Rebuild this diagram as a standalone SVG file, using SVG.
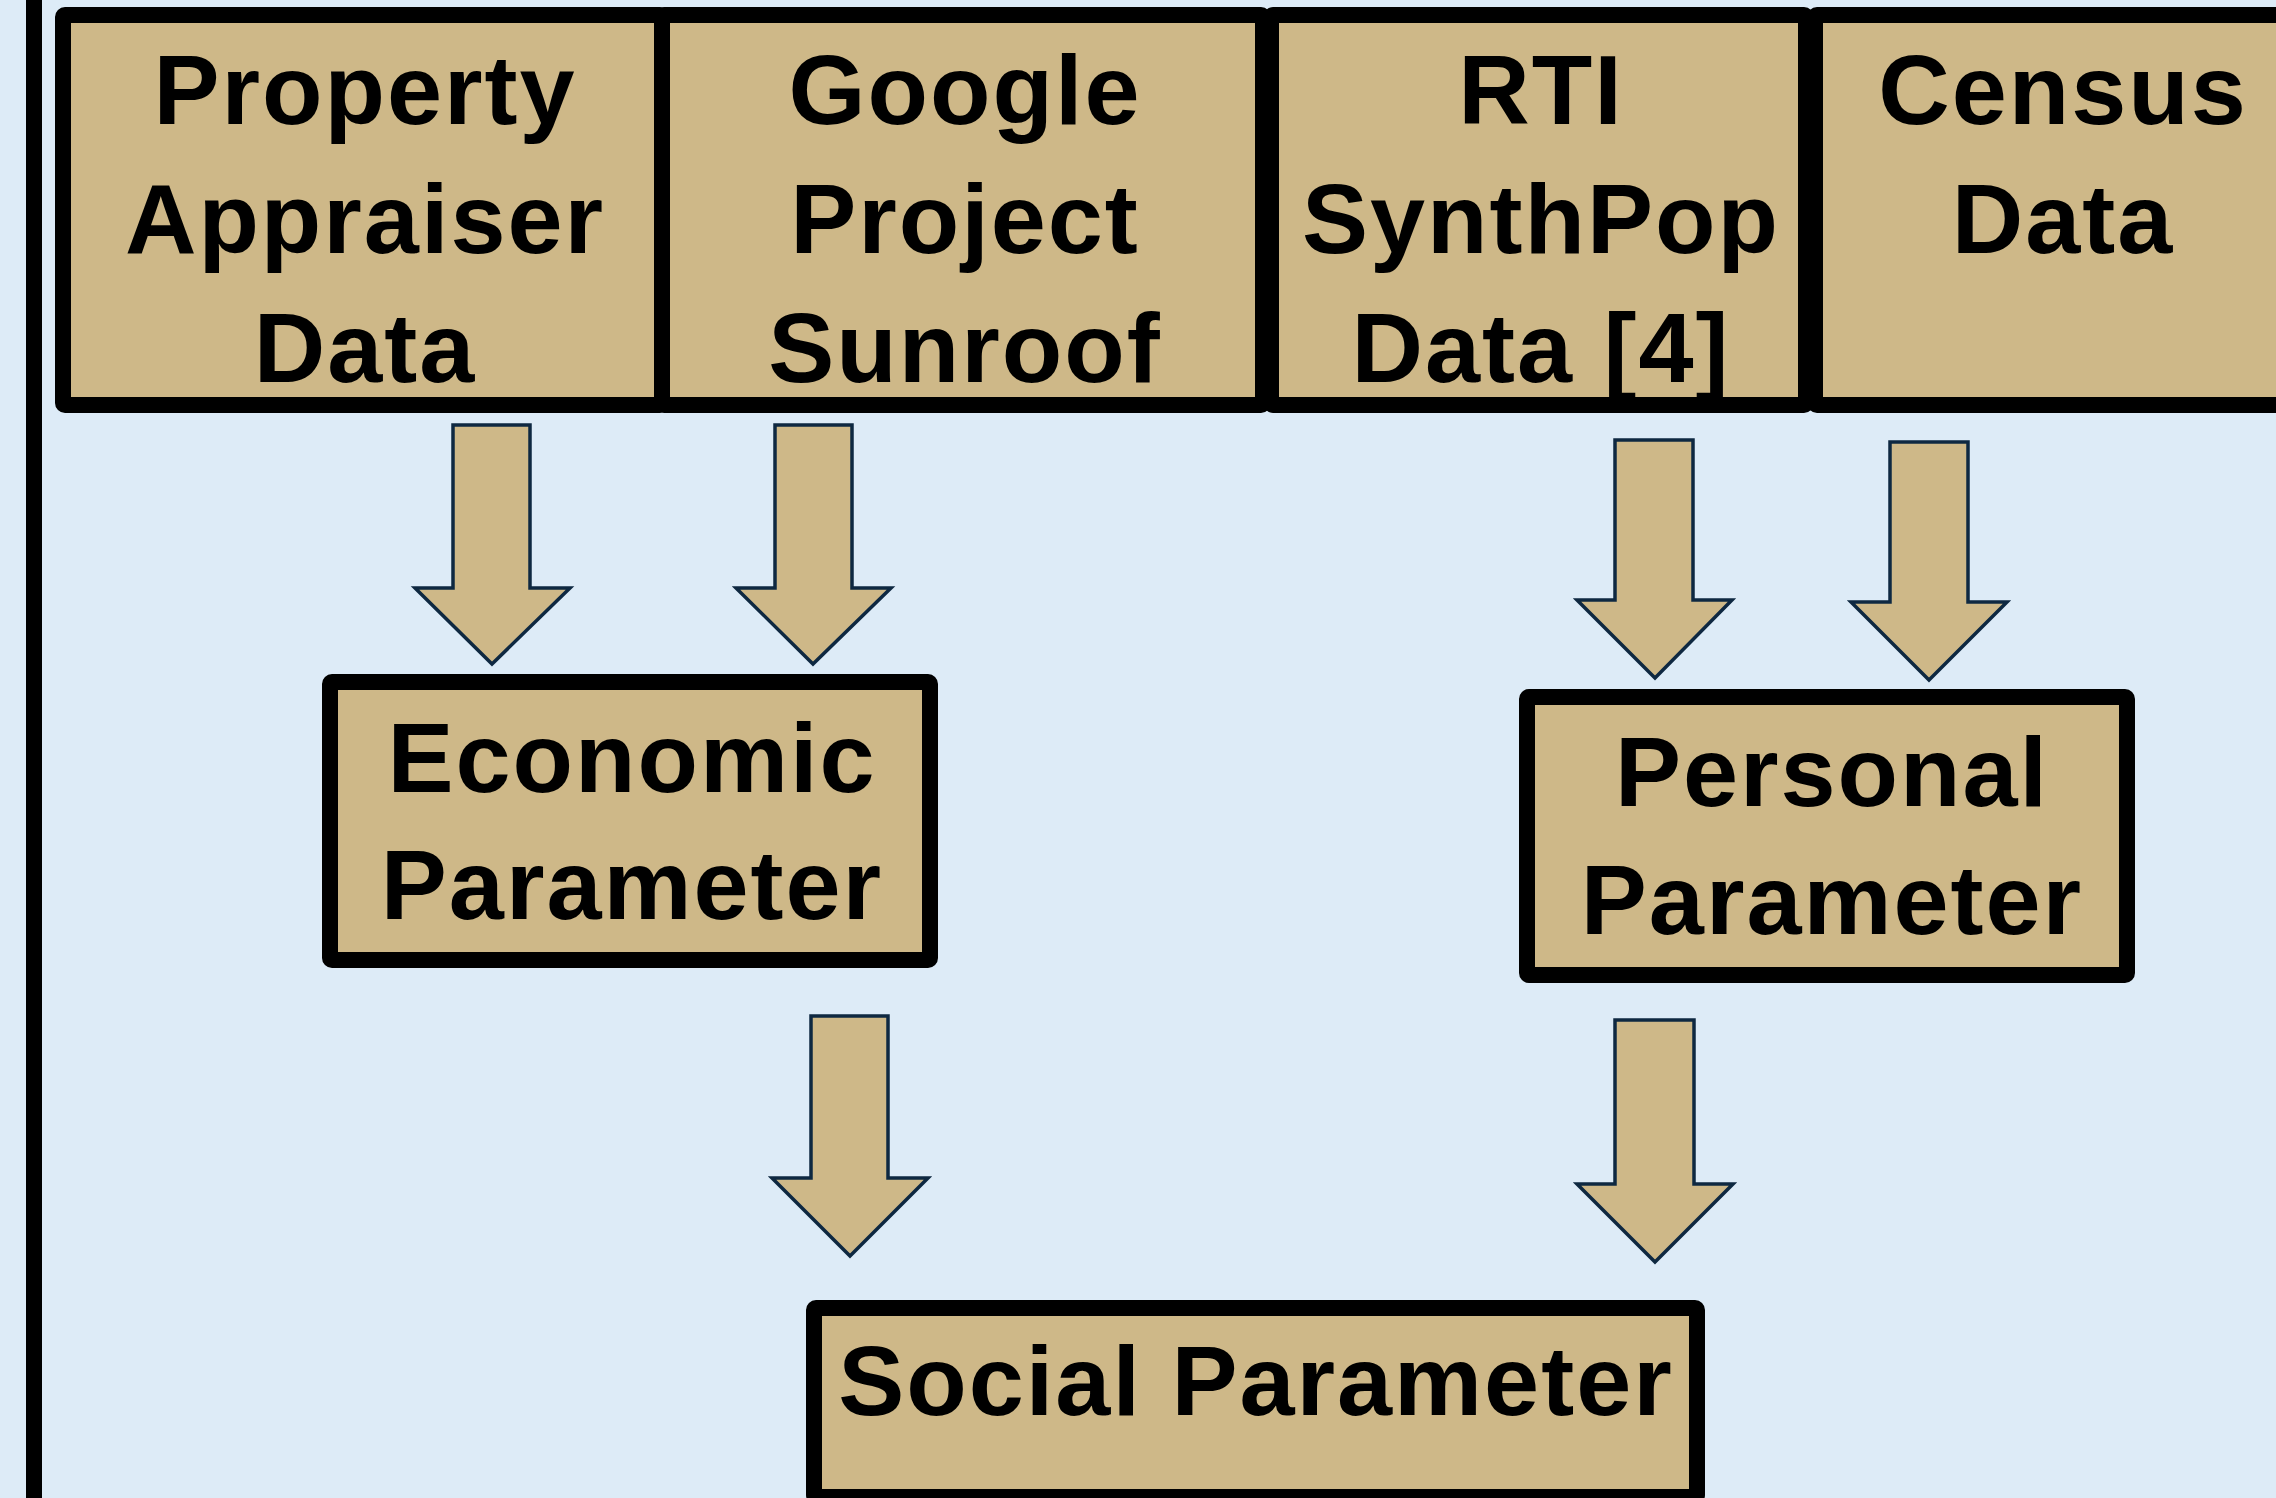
<svg xmlns="http://www.w3.org/2000/svg" width="2276" height="1498" viewBox="0 0 2276 1498">
<style>
.box{fill:#CEB888;stroke:#000;stroke-width:16;stroke-linejoin:round}
.lbl{font-family:"Liberation Sans",Arial,sans-serif;font-weight:bold;font-size:99px;letter-spacing:2px;fill:#000;text-anchor:middle}
.arr{fill:#CEB888;stroke:#0E2841;stroke-width:3.5;stroke-linejoin:miter}
</style>
<rect x="0" y="0" width="2276" height="1498" fill="#DDEBF7"/>
<rect x="26" y="-5" width="16" height="1510" fill="#000"/>
<g id="node-property">
<rect class="box" x="63" y="15" width="599" height="390" rx="2"/>
<text class="lbl" x="365" y="124">Property</text>
<text class="lbl" x="365" y="253">Appraiser</text>
<text class="lbl" x="365" y="382">Data</text>
</g>
<g id="node-google">
<rect class="box" x="662" y="15" width="601" height="390" rx="2"/>
<text class="lbl" x="965" y="124">Google</text>
<text class="lbl" x="965" y="253">Project</text>
<text class="lbl" x="965" y="382">Sunroof</text>
</g>
<g id="node-rti">
<rect class="box" x="1271" y="15" width="535" height="390" rx="2"/>
<text class="lbl" x="1541" y="124">RTI</text>
<text class="lbl" x="1541" y="253">SynthPop</text>
<text class="lbl" x="1541" y="382">Data [4]</text>
</g>
<g id="node-census">
<rect class="box" x="1815" y="15" width="494" height="390" rx="2"/>
<text class="lbl" x="2063" y="124">Census</text>
<text class="lbl" x="2063" y="253">Data</text>
</g>
<g id="node-economic">
<rect class="box" x="330" y="682" width="600" height="278" rx="2"/>
<text class="lbl" x="632" y="792">Economic</text>
<text class="lbl" x="632" y="919">Parameter</text>
</g>
<g id="node-personal">
<rect class="box" x="1527" y="697" width="600" height="278" rx="2"/>
<text class="lbl" x="1832" y="806">Personal</text>
<text class="lbl" x="1832" y="934">Parameter</text>
</g>
<g id="node-social">
<rect class="box" x="814" y="1308" width="883" height="189" rx="2"/>
<text class="lbl" x="1256" y="1415">Social Parameter</text>
</g>
<g id="connectors">
<polygon class="arr" points="453,425 530,425 530,588 570,588 492,664 415,588 453,588"/>
<polygon class="arr" points="775,425 852,425 852,588 891,588 813,664 736,588 775,588"/>
<polygon class="arr" points="1615,440 1693,440 1693,600 1732,600 1655,678 1577,600 1615,600"/>
<polygon class="arr" points="1890,442 1968,442 1968,602 2007,602 1929,680 1851,602 1890,602"/>
<polygon class="arr" points="811,1016 888,1016 888,1178 928,1178 850,1256 772,1178 811,1178"/>
<polygon class="arr" points="1615,1020 1694,1020 1694,1184 1733,1184 1655,1262 1577,1184 1615,1184"/>
</g>
</svg>
